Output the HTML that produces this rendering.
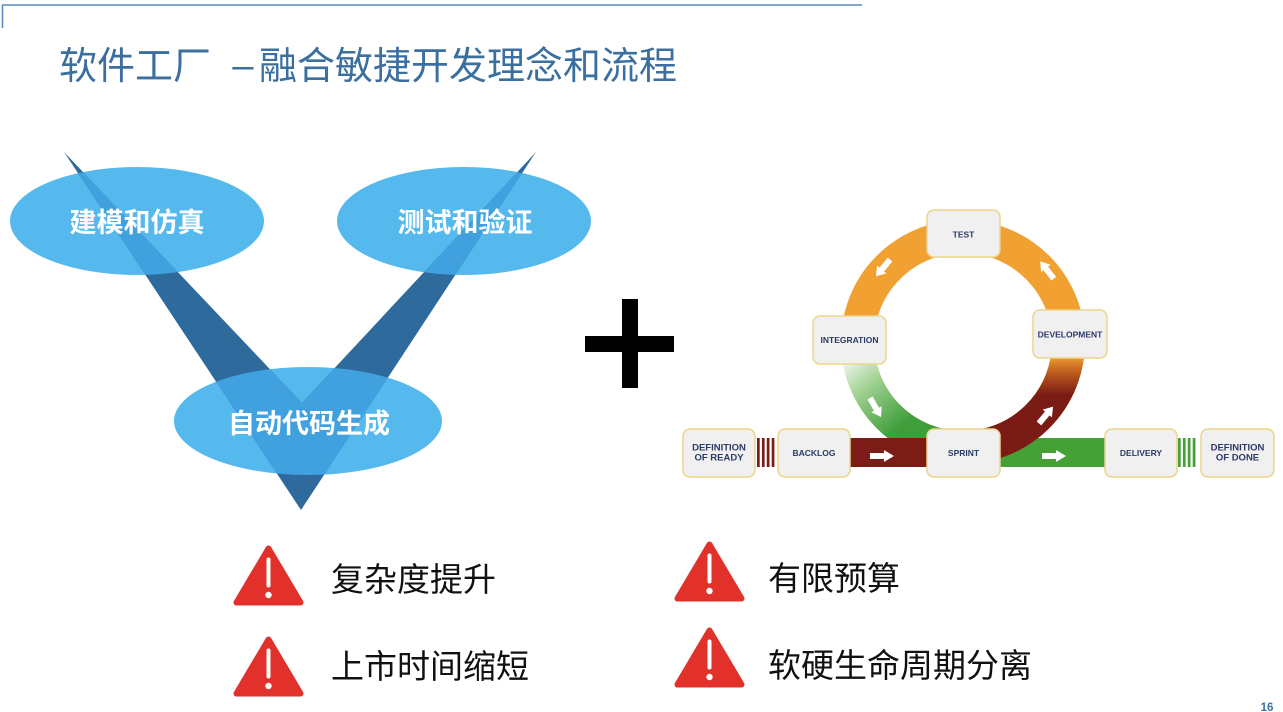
<!DOCTYPE html>
<html><head><meta charset="utf-8"><style>
html,body{margin:0;padding:0;background:#fff;}
body{width:1283px;height:712px;overflow:hidden;}
svg{display:block}
</style></head><body>
<svg width="1283" height="712" viewBox="0 0 1283 712" xmlns="http://www.w3.org/2000/svg">
<defs>
 <clipPath id="ell">
  <ellipse cx="137" cy="221" rx="127" ry="54"/>
  <ellipse cx="464" cy="221" rx="127" ry="54"/>
  <ellipse cx="308" cy="421" rx="134" ry="54"/>
 </clipPath>
 <linearGradient id="gG" gradientUnits="userSpaceOnUse" x1="845" y1="360" x2="900" y2="428">
  <stop offset="0" stop-color="#f2f8ef"/>
  <stop offset="0.4" stop-color="#9fd191"/>
  <stop offset="1" stop-color="#3f9d3a"/>
 </linearGradient>
 <linearGradient id="gR" gradientUnits="userSpaceOnUse" x1="0" y1="356" x2="0" y2="395">
  <stop offset="0" stop-color="#f0a032"/>
  <stop offset="0.45" stop-color="#b9581c"/>
  <stop offset="1" stop-color="#7a1b16"/>
 </linearGradient>
</defs>

<!-- top frame lines -->
<line x1="2" y1="5" x2="862" y2="5" stroke="#5b8cc0" stroke-width="1.6"/>
<line x1="2.5" y1="4.5" x2="2.5" y2="28" stroke="#5b8cc0" stroke-width="1.6"/>

<!-- title -->
<g font-family="'Liberation Sans','Noto Sans CJK SC',sans-serif" font-size="38" fill="#3b6f9f">
 <text x="59" y="79" font-family="'Noto Sans CJK SC',sans-serif">软件工厂</text>
 <text x="243" y="78" text-anchor="middle" font-family="'Liberation Sans',sans-serif">–</text>
 <text x="259" y="79" font-family="'Noto Sans CJK SC',sans-serif">融合敏捷开发理念和流程</text>
</g>

<!-- V diagram -->
<ellipse cx="137" cy="221" rx="127" ry="54" fill="#55b9ed"/>
<ellipse cx="464" cy="221" rx="127" ry="54" fill="#55b9ed"/>
<ellipse cx="308" cy="421" rx="134" ry="54" fill="#55b9ed"/>
<polygon points="64,152 302,403 536,152 301,510" fill="#2e6a9c"/>
<polygon points="64,152 302,403 536,152 301,510" fill="#41a0de" clip-path="url(#ell)"/>
<g font-family="'Liberation Sans','Noto Sans CJK SC',sans-serif" font-size="27" font-weight="700" fill="#fff" text-anchor="middle">
 <text x="137" y="232">建模和仿真</text>
 <text x="465" y="232">测试和验证</text>
 <text x="309" y="433">自动代码生成</text>
</g>

<!-- plus -->
<rect x="622" y="299" width="16" height="89" fill="#000"/>
<rect x="585" y="336" width="89" height="16" fill="#000"/>

<!-- agile diagram -->
<rect x="999" y="438" width="107" height="29" fill="#45a035"/>
<circle cx="963" cy="342" r="105.5" fill="none" stroke="#f0a132" stroke-width="33"/>
<path d="M857.5,342 A105.5,105.5 0 0 0 963,447.5" fill="none" stroke="url(#gG)" stroke-width="33"/>
<path d="M1068.5,342 A105.5,105.5 0 0 1 963,447.5" fill="none" stroke="url(#gR)" stroke-width="33"/>
<rect x="849" y="438" width="80" height="29" fill="#7b1c17"/>
<!-- stripes -->
<g fill="#7b1c17">
 <rect x="757" y="438" width="2.7" height="29"/>
 <rect x="761.9" y="438" width="2.7" height="29"/>
 <rect x="766.8" y="438" width="2.7" height="29"/>
 <rect x="771.7" y="438" width="2.7" height="29"/>
</g>
<g fill="#45a035">
 <rect x="1178" y="438" width="2.7" height="29"/>
 <rect x="1182.9" y="438" width="2.7" height="29"/>
 <rect x="1187.8" y="438" width="2.7" height="29"/>
 <rect x="1192.7" y="438" width="2.7" height="29"/>
</g>
<!-- arrows -->
<g fill="#fff">
 <polygon transform="translate(882,456)" points="-12,-3 2,-3 2,-6 12,0 2,6 2,3 -12,3"/>
 <polygon transform="translate(1054,456)" points="-12,-3 2,-3 2,-6 12,0 2,6 2,3 -12,3"/>
 <polygon transform="translate(875.5,407.5) rotate(60)" points="-11,-3 2,-3 2,-6 11,0 2,6 2,3 -11,3"/>
 <polygon transform="translate(1046,415) rotate(-50)" points="-11,-3 2,-3 2,-6 11,0 2,6 2,3 -11,3"/>
 <polygon transform="translate(1047,270) rotate(-128)" points="-11,-3 2,-3 2,-6 11,0 2,6 2,3 -11,3"/>
 <polygon transform="translate(883,268) rotate(130)" points="-11,-3 2,-3 2,-6 11,0 2,6 2,3 -11,3"/>
</g>
<!-- boxes -->
<g fill="#f0f0f0" stroke="#ecd68a" stroke-width="1.5">
 <rect x="927" y="210" width="73" height="47" rx="7"/>
 <rect x="813" y="316" width="73" height="48" rx="7"/>
 <rect x="1033" y="310" width="74" height="48" rx="7"/>
 <rect x="927" y="429" width="73" height="48" rx="7"/>
 <rect x="683" y="429" width="72" height="48" rx="7"/>
 <rect x="778" y="429" width="72" height="48" rx="7"/>
 <rect x="1105" y="429" width="72" height="48" rx="7"/>
 <rect x="1201" y="429" width="73" height="48" rx="7"/>
</g>
<g font-family="'Liberation Sans',sans-serif" font-weight="700" fill="#2b3a67" text-anchor="middle" font-size="8.5">
 <text x="963.5" y="237.5">TEST</text>
 <text x="849.5" y="343">INTEGRATION</text>
 <text x="1070" y="337.5">DEVELOPMENT</text>
 <text x="963.5" y="456">SPRINT</text>
 <text x="814" y="456">BACKLOG</text>
 <text x="1141" y="456">DELIVERY</text>
 <text x="719" y="450.5" font-size="9.5">DEFINITION</text>
 <text x="719" y="460.5" font-size="9.5">OF READY</text>
 <text x="1237.5" y="450.5" font-size="9.5">DEFINITION</text>
 <text x="1237.5" y="460.5" font-size="9.5">OF DONE</text>
</g>

<!-- warnings -->
<g>
 <g transform="translate(268.5,576.5)">
  <polygon points="0,-28 -32,26 32,26" fill="#e2302a" stroke="#e2302a" stroke-width="6" stroke-linejoin="round"/>
  <rect x="-2" y="-19" width="4" height="30" rx="2" fill="#fff"/>
  <circle cx="0" cy="18.5" r="3.2" fill="#fff"/>
 </g>
 <g transform="translate(268.5,667.5)">
  <polygon points="0,-28 -32,26 32,26" fill="#e2302a" stroke="#e2302a" stroke-width="6" stroke-linejoin="round"/>
  <rect x="-2" y="-19" width="4" height="30" rx="2" fill="#fff"/>
  <circle cx="0" cy="18.5" r="3.2" fill="#fff"/>
 </g>
 <g transform="translate(709.5,572.5)">
  <polygon points="0,-28 -32,26 32,26" fill="#e2302a" stroke="#e2302a" stroke-width="6" stroke-linejoin="round"/>
  <rect x="-2" y="-19" width="4" height="30" rx="2" fill="#fff"/>
  <circle cx="0" cy="18.5" r="3.2" fill="#fff"/>
 </g>
 <g transform="translate(709.5,658.5)">
  <polygon points="0,-28 -32,26 32,26" fill="#e2302a" stroke="#e2302a" stroke-width="6" stroke-linejoin="round"/>
  <rect x="-2" y="-19" width="4" height="30" rx="2" fill="#fff"/>
  <circle cx="0" cy="18.5" r="3.2" fill="#fff"/>
 </g>
</g>
<g font-family="'Liberation Sans','Noto Sans CJK SC',sans-serif" font-size="33" fill="#111">
 <text x="331" y="591">复杂度提升</text>
 <text x="331" y="678">上市时间缩短</text>
 <text x="768" y="590">有限预算</text>
 <text x="768" y="677">软硬生命周期分离</text>
</g>

<!-- page number -->
<text x="1267" y="711" text-anchor="middle" font-family="'Liberation Sans',sans-serif" font-weight="700" font-size="11.5" fill="#3a6fa0">16</text>
</svg>
</body></html>
